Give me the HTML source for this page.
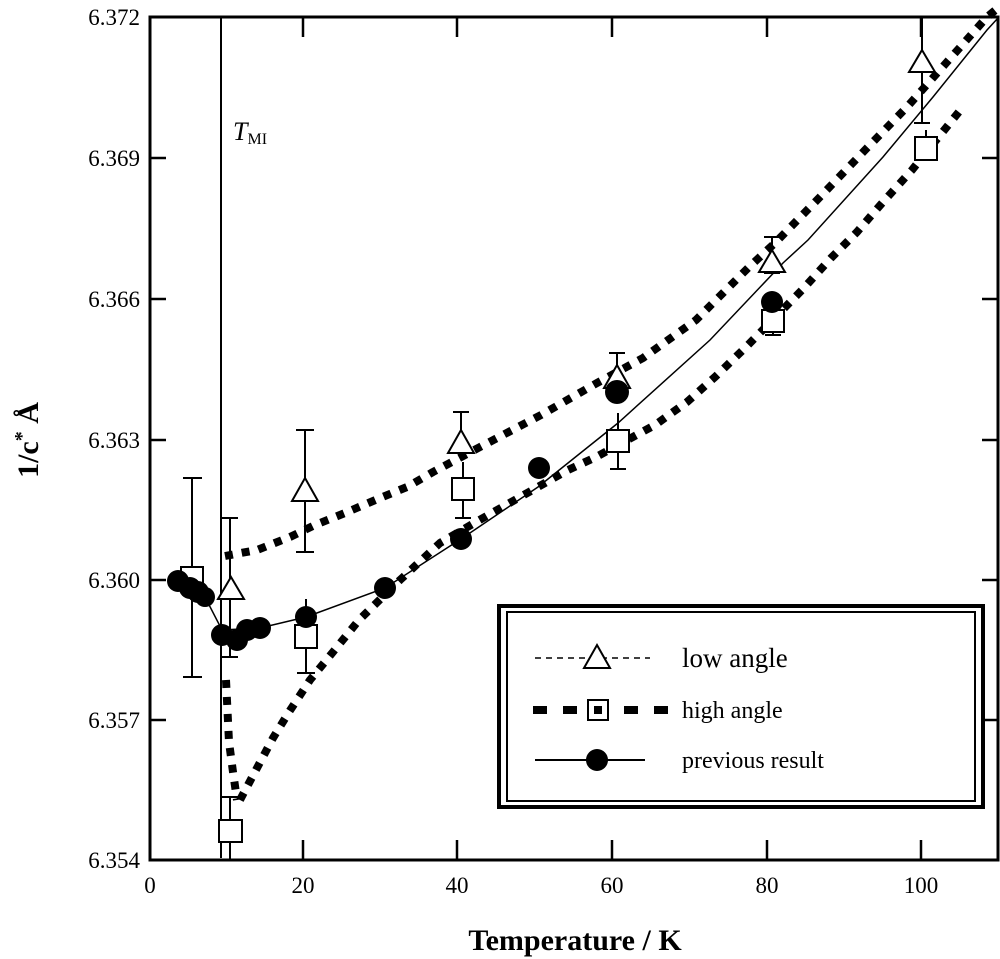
<!DOCTYPE html>
<html><head><meta charset="utf-8"><style>body{margin:0;background:#fff}svg{display:block}</style></head><body>
<svg width="1000" height="959" xmlns="http://www.w3.org/2000/svg" font-family="Liberation Serif, serif">
<rect width="1000" height="959" fill="#fff"/>
<rect x="150" y="17" width="848" height="843" fill="none" stroke="#000" stroke-width="3"/>
<g stroke="#000" stroke-width="2.5">
<line x1="150" y1="158" x2="166" y2="158"/><line x1="150" y1="299" x2="166" y2="299"/><line x1="150" y1="440" x2="166" y2="440"/><line x1="150" y1="580" x2="166" y2="580"/><line x1="150" y1="720" x2="166" y2="720"/>
<line x1="982" y1="158" x2="998" y2="158"/><line x1="982" y1="299" x2="998" y2="299"/><line x1="982" y1="440" x2="998" y2="440"/><line x1="982" y1="580" x2="998" y2="580"/><line x1="982" y1="720" x2="998" y2="720"/>
<line x1="303" y1="860" x2="303" y2="840"/><line x1="457" y1="860" x2="457" y2="840"/><line x1="612" y1="860" x2="612" y2="840"/><line x1="767" y1="860" x2="767" y2="840"/><line x1="921" y1="860" x2="921" y2="840"/>
<line x1="303" y1="17" x2="303" y2="37"/><line x1="457" y1="17" x2="457" y2="37"/><line x1="612" y1="17" x2="612" y2="37"/><line x1="767" y1="17" x2="767" y2="37"/><line x1="921" y1="17" x2="921" y2="37"/>
<line x1="221" y1="17" x2="221" y2="858" stroke-width="2"/>
</g>
<g font-size="23" text-anchor="end">
<text x="140" y="25">6.372</text><text x="140" y="166">6.369</text><text x="140" y="307">6.366</text><text x="140" y="448">6.363</text><text x="140" y="588">6.360</text><text x="140" y="728">6.357</text><text x="140" y="868">6.354</text>
</g>
<g font-size="23" text-anchor="middle">
<text x="150" y="893">0</text><text x="303" y="893">20</text><text x="457" y="893">40</text><text x="612" y="893">60</text><text x="767" y="893">80</text><text x="921" y="893">100</text>
</g>
<text x="575" y="950" font-size="30" font-weight="bold" text-anchor="middle">Temperature / K</text>
<text transform="translate(38,440) rotate(-90)" font-size="30" font-weight="bold" text-anchor="middle">1/c<tspan dy="-10" font-size="20">*</tspan><tspan dy="10"> Å</tspan></text>
<text x="233" y="140" font-size="26" font-style="italic">T<tspan font-size="16" font-style="normal" dy="4">MI</tspan></text>
<g fill="none" stroke="#000" stroke-width="8" stroke-dasharray="8,9" stroke-linejoin="round">
<path d="M225,556 L257,550 L290,537 L315,525 L345,513 L380,498 L407,487 L433,472 L480,447 L541,415 L597,383 L643,358 L696,320 L748,268 L776,242 L820,197 L867,148 L907,107 L947,62 L987,17 L998,8"/>
<path d="M226,680 L229,742 L233,772 L237,800"/>
<path d="M240,800 L257,768 L273,738 L289,712 L310,680 L333,652 L359,620 L400,580 L440,543 L476,522 L506,505 L568,470 L596,457 L655,425 L687,402 L715,377 L745,348 L803,289 L831,258 L857,232 L883,202 L912,170 L962,108"/>
</g>
<path d="M178,581 L205,597 L222,630 L260,628 L306,617 L385,588 L464,537 L538,487 L618,423 L710,340 L783,263 L808,240 L883,157 L933,97 L987,30 L998,18" fill="none" stroke="#000" stroke-width="1.5"/>
<g stroke="#000" stroke-width="2">
<path d="M192,478 V677 M183,478 H202 M183,677 H202"/>
<path d="M230,797 V860 M222,797 H238"/>
<path d="M230,518 V657 M222,518 H238 M222,657 H238"/>
<path d="M305,430 V552 M296,430 H314 M296,552 H314"/>
<path d="M306,599 V673 M297,673 H315"/>
<path d="M461,412 V455 M453,412 H469"/>
<path d="M463,462 V518 M455,518 H471"/>
<path d="M617,353 V385 M609,353 H625"/>
<path d="M618,413 V469 M610,469 H626"/>
<path d="M772,237 V273 M764,237 H780 M764,273 H780"/>
<path d="M773,306 V335 M765,335 H781"/>
<path d="M922,17 V123 M914,123 H930"/>
<path d="M926,130 V137"/>
</g>
<g fill="#fff" stroke="#000" stroke-width="2">
<rect x="181" y="567" width="22" height="22"/>
<rect x="219" y="820" width="23" height="22"/>
<rect x="295" y="625" width="22" height="23"/>
<rect x="452" y="478" width="22" height="22"/>
<rect x="607" y="430" width="22" height="22"/>
<rect x="762" y="310" width="22" height="22"/>
<rect x="915" y="137" width="22" height="23"/>
</g>
<g fill="#fff" stroke="#000" stroke-width="2">
<path d="M231,577 L244,599 L218,599 Z"/>
<path d="M305,478 L318,501 L292,501 Z"/>
<path d="M461,430 L474,453 L448,453 Z"/>
<path d="M617,365 L630,388 L604,388 Z"/>
<path d="M772,250 L785,272 L759,272 Z"/>
<path d="M922,50 L935,72 L909,72 Z"/>
</g>
<g fill="#000">
<circle cx="178" cy="581" r="11"/><circle cx="190" cy="588" r="11"/><circle cx="198" cy="592" r="11"/><circle cx="205" cy="597" r="10"/>
<circle cx="222" cy="635" r="11"/><circle cx="237" cy="640" r="11"/><circle cx="247" cy="630" r="11"/><circle cx="260" cy="628" r="11"/>
<circle cx="306" cy="617" r="11"/><circle cx="385" cy="588" r="11"/><circle cx="461" cy="539" r="11"/><circle cx="539" cy="468" r="11"/>
<circle cx="617" cy="392" r="12"/><circle cx="772" cy="302" r="11"/>
</g>
<rect x="499" y="606" width="484" height="201" fill="#fff" stroke="#000" stroke-width="4"/>
<rect x="507" y="612" width="468" height="189" fill="none" stroke="#000" stroke-width="2"/>
<line x1="535" y1="658" x2="650" y2="658" stroke="#000" stroke-width="1.5" stroke-dasharray="6,5"/>
<path d="M597,645 L610,668 L584,668 Z" fill="#fff" stroke="#000" stroke-width="2"/>
<text x="682" y="667" font-size="27">low angle</text>
<g fill="#000"><rect x="533" y="706" width="14" height="8"/><rect x="563" y="706" width="14" height="8"/><rect x="624" y="706" width="14" height="8"/><rect x="654" y="706" width="14" height="8"/></g>
<rect x="588" y="700" width="20" height="20" fill="#fff" stroke="#000" stroke-width="2"/>
<rect x="594" y="706" width="8" height="8" fill="#000"/>
<text x="682" y="718" font-size="24">high angle</text>
<line x1="535" y1="760" x2="645" y2="760" stroke="#000" stroke-width="2"/>
<circle cx="597" cy="760" r="11" fill="#000"/>
<text x="682" y="768" font-size="24">previous result</text>
</svg>
</body></html>
